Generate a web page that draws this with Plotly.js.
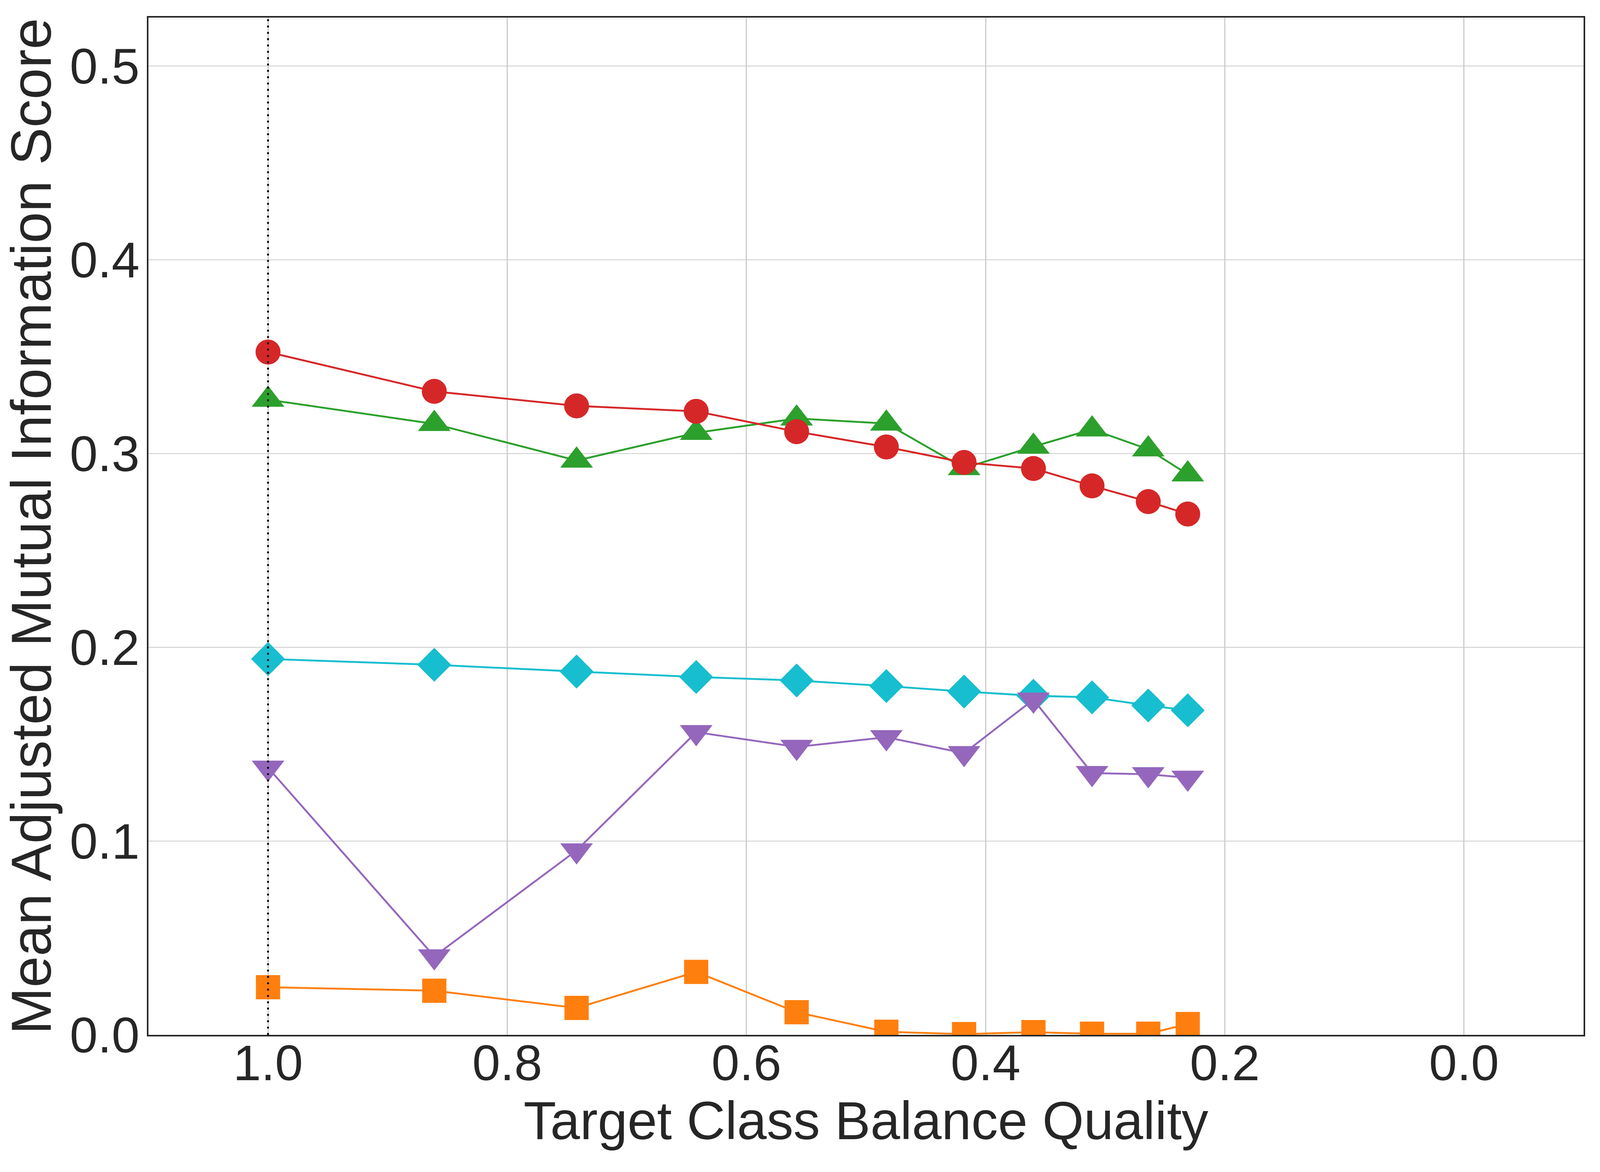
<!DOCTYPE html>
<html>
<head>
<meta charset="utf-8">
<script src="https://cdn.plot.ly/plotly-3.0.1.min.js"></script>
<style>html,body{margin:0;padding:0;background:#fff;overflow:hidden;}</style>
</head>
<body>
<div id="chart"></div>
<script>
const balanceQuality = [1.0, 0.861, 0.742, 0.642, 0.558, 0.483, 0.418, 0.360, 0.311, 0.264, 0.231];

const seriesRed    = [0.3524, 0.3321, 0.3246, 0.3218, 0.3113, 0.3034, 0.2954, 0.2923, 0.2833, 0.2752, 0.2688];
const seriesGreen  = [0.3278, 0.3153, 0.2964, 0.3107, 0.3181, 0.3155, 0.2925, 0.3036, 0.3125, 0.3022, 0.2893];
const seriesCyan   = [0.1940, 0.1910, 0.1875, 0.1847, 0.1829, 0.1800, 0.1772, 0.1750, 0.1742, 0.1700, 0.1675];
const seriesPurple = [0.1379, 0.0405, 0.0952, 0.1562, 0.1486, 0.1536, 0.1454, 0.1730, 0.1351, 0.1345, 0.1327];
const seriesOrange = [0.0246, 0.0228, 0.0139, 0.0325, 0.0117, 0.0016, 0.0004, 0.0014, 0.0006, 0.0006, 0.0056];

const xTickVals = [1.0, 0.8, 0.6, 0.4, 0.2, 0.0];
const xTickText = ['1.0', '0.8', '0.6', '0.4', '0.2', '0.0'];
const yTickVals = [0.0, 0.1, 0.2, 0.3, 0.4, 0.5];
const yTickText = ['0.0', '0.1', '0.2', '0.3', '0.4', '0.5'];

const referenceX = 1.0;

const W = window.innerWidth || 4500;
const H = window.innerHeight || 3000;
const SX = W / 4500;
const SY = H / 3000;
const SM = Math.sqrt(SX * SY);
const px = v => v * SM;

function mk(y, color, symbol, size) {
  return {
    x: balanceQuality, y: y, type: 'scatter', mode: 'lines+markers',
    line: {color: color, width: px(5)},
    marker: {color: color, symbol: symbol, size: px(size), line: {width: 0}},
    showlegend: false, hoverinfo: 'skip'
  };
}

const data = [
  mk(seriesOrange, '#ff7f0e', 'square', 65),
  mk(seriesCyan, '#17becf', 'diamond', 70),
  mk(seriesPurple, '#9467bd', 'triangle-down', 76),
  mk(seriesGreen, '#2ca02c', 'triangle-up', 76),
  mk(seriesRed, '#d62728', 'circle', 67)
];

const fam = '"Liberation Sans", Arial, sans-serif';
const tickFont = {family: fam, color: '#262626', size: px(135)};
const xTitleFont = {family: fam, color: '#262626', size: 150 * SX};
const yTitleFont = {family: fam, color: '#262626', size: 144 * SY};

const layout = {
  width: W, height: H,
  paper_bgcolor: '#ffffff', plot_bgcolor: '#ffffff',
  margin: {l: 418 * SX, r: 46 * SX, t: 45 * SY, b: 351 * SY, pad: 0},
  font: tickFont,
  xaxis: {
    range: [1.1, -0.1], tickvals: xTickVals, ticktext: xTickText,
    showgrid: true, gridcolor: '#cccccc', gridwidth: px(3),
    zeroline: false, showline: true, mirror: true, linecolor: '#262626', linewidth: px(4),
    ticks: '', tickfont: tickFont, ticklabelstandoff: Math.round(-42 * SY),
    title: {text: 'Target Class Balance Quality', font: xTitleFont, standoff: 5 * SY},
    automargin: false
  },
  yaxis: {
    range: [0, 0.525], tickvals: yTickVals, ticktext: yTickText,
    showgrid: true, gridcolor: '#cccccc', gridwidth: px(3),
    zeroline: false, showline: true, mirror: true, linecolor: '#262626', linewidth: px(4),
    ticks: '', tickfont: tickFont, ticklabelstandoff: Math.round(-8 * SX),
    title: {text: 'Mean Adjusted Mutual Information Score', font: yTitleFont, standoff: 26 * SX},
    automargin: false
  },
  shapes: [{
    type: 'line', xref: 'x', yref: 'paper', x0: referenceX, x1: referenceX, y0: 0, y1: 1,
    line: {color: '#000000', width: px(5), dash: px(5) + 'px,' + px(12) + 'px'}, layer: 'above'
  }]
};

Plotly.newPlot('chart', data, layout, {staticPlot: true, displayModeBar: false});
</script>
</body>
</html>
